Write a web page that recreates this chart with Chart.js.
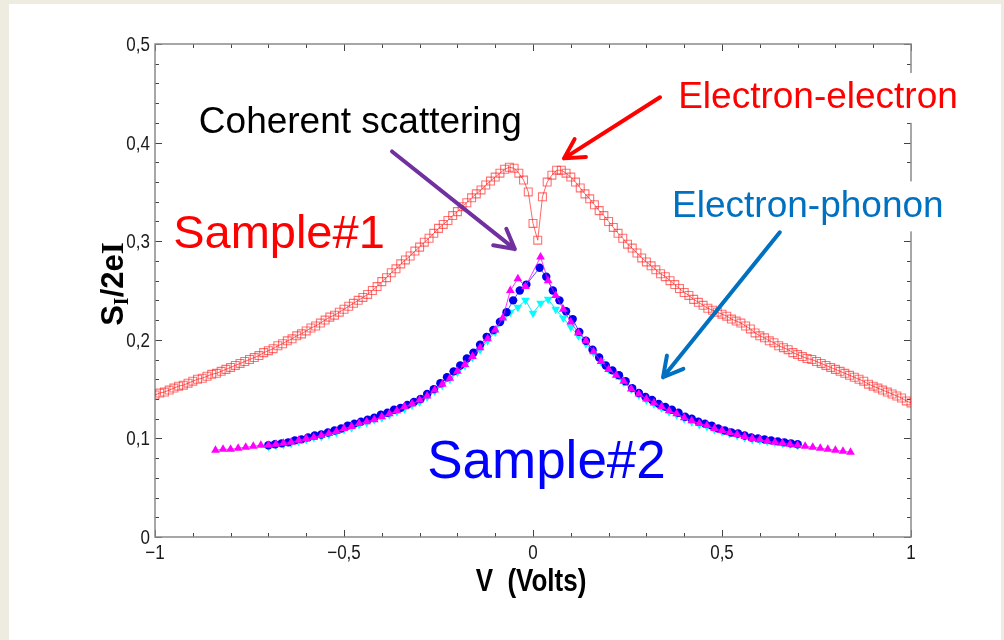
<!DOCTYPE html>
<html>
<head>
<meta charset="utf-8">
<script src="https://cdn.jsdelivr.net/npm/chart.js@4.4.1/dist/chart.umd.min.js"></script>
<style>
  html, body { margin: 0; padding: 0; background: #EEECE1; }
  #slide { position: absolute; left: 9px; top: 4px; width: 992px; height: 636px; background: #fff; }
  #wrap { position: absolute; left: 0; top: 0; width: 1004px; height: 640px; }
</style>
</head>
<body>
<div id="slide"></div>
<div id="wrap"><canvas id="noiseChart"></canvas></div>
<script>
// Sample#1 (red open squares)
const redX = [-1,-0.9875,-0.975,-0.9625,-0.95,-0.9375,-0.925,-0.9125,-0.9,
  -0.8875,-0.875,-0.8625,-0.85,-0.8375,-0.825,-0.8125,-0.8,
  -0.7875,-0.775,-0.7625,-0.75,-0.7375,-0.725,-0.7125,-0.7,
  -0.6875,-0.675,-0.6625,-0.65,-0.6375,-0.625,-0.6125,-0.6,
  -0.5875,-0.575,-0.5625,-0.55,-0.5375,-0.525,-0.5125,-0.5,
  -0.4875,-0.475,-0.4625,-0.45,-0.4375,-0.425,-0.4125,-0.4,
  -0.3875,-0.375,-0.3625,-0.35,-0.3375,-0.325,-0.3125,-0.3,
  -0.2875,-0.275,-0.2625,-0.25,-0.2375,-0.225,-0.2125,-0.2,
  -0.1875,-0.175,-0.1625,-0.15,-0.1375,-0.125,-0.1125,-0.1,
  -0.0875,-0.075,-0.0625,-0.05,-0.0375,-0.025,-0.0125,0,
  0.0125,0.025,0.0375,0.05,0.0625,0.075,0.0875,0.1,
  0.1125,0.125,0.1375,0.15,0.1625,0.175,0.1875,0.2,
  0.2125,0.225,0.2375,0.25,0.2625,0.275,0.2875,0.3,
  0.3125,0.325,0.3375,0.35,0.3625,0.375,0.3875,0.4,
  0.4125,0.425,0.4375,0.45,0.4625,0.475,0.4875,0.5,
  0.5125,0.525,0.5375,0.55,0.5625,0.575,0.5875,0.6,
  0.6125,0.625,0.6375,0.65,0.6625,0.675,0.6875,0.7,
  0.7125,0.725,0.7375,0.75,0.7625,0.775,0.7875,0.8,
  0.8125,0.825,0.8375,0.85,0.8625,0.875,0.8875,0.9,
  0.9125,0.925,0.9375,0.95,0.9625,0.975,0.9875,1];
const redY = [0.144,0.146,0.147,0.149,0.151,0.153,0.154,0.156,0.158,
  0.160,0.161,0.163,0.165,0.166,0.168,0.170,0.172,
  0.174,0.176,0.178,0.180,0.182,0.184,0.187,0.189,
  0.191,0.194,0.196,0.199,0.201,0.204,0.206,0.209,
  0.212,0.214,0.217,0.220,0.223,0.225,0.228,0.231,
  0.234,0.237,0.240,0.243,0.246,0.250,0.254,0.259,
  0.263,0.268,0.272,0.277,0.281,0.285,0.290,0.294,
  0.299,0.303,0.308,0.313,0.317,0.321,0.326,0.330,
  0.335,0.339,0.344,0.348,0.352,0.357,0.361,0.365,
  0.369,0.373,0.375,0.374,0.369,0.362,0.350,0.318,
  0.301,0.345,0.360,0.367,0.372,0.372,0.369,0.365,
  0.360,0.354,0.348,0.343,0.337,0.331,0.326,0.320,
  0.314,0.308,0.303,0.297,0.293,0.288,0.283,0.279,
  0.275,0.271,0.267,0.264,0.260,0.256,0.252,0.248,
  0.245,0.241,0.238,0.235,0.232,0.230,0.228,0.226,
  0.224,0.221,0.219,0.217,0.214,0.211,0.207,0.204,
  0.202,0.199,0.197,0.194,0.192,0.190,0.187,0.185,
  0.183,0.181,0.180,0.178,0.176,0.174,0.172,0.170,
  0.168,0.166,0.164,0.162,0.160,0.158,0.155,0.153,
  0.151,0.149,0.147,0.145,0.143,0.141,0.138,0.136];

// Sample#2 (blue circles)
const blueX = [-0.7,-0.6825,-0.665,-0.6475,-0.63,-0.6125,-0.595,-0.5775,-0.56,-0.5425,
  -0.525,-0.5075,-0.49,-0.4725,-0.455,-0.4375,-0.42,-0.4025,-0.385,-0.3675,
  -0.35,-0.3325,-0.315,-0.2975,-0.28,-0.2625,-0.245,-0.2275,-0.21,-0.1925,
  -0.175,-0.1575,-0.14,-0.1225,-0.105,-0.0875,-0.07,-0.0525,-0.035,-0.0175,
  0.0175,0.035,0.0525,0.07,0.0875,0.105,0.1225,0.14,0.1575,0.175,
  0.1925,0.21,0.2275,0.245,0.2625,0.28,0.2975,0.315,0.3325,0.35,
  0.3675,0.385,0.4025,0.42,0.4375,0.455,0.4725,0.49,0.5075,0.525,
  0.5425,0.56,0.5775,0.595,0.6125,0.63,0.6475,0.665,0.6825,0.7];
const blueY = [0.093,0.094,0.095,0.096,0.098,0.099,0.101,0.103,0.104,0.106,
  0.108,0.110,0.113,0.115,0.117,0.119,0.121,0.124,0.126,0.129,
  0.131,0.134,0.137,0.140,0.145,0.150,0.156,0.162,0.168,0.174,
  0.181,0.187,0.195,0.203,0.210,0.218,0.228,0.240,0.250,0.256,
  0.273,0.264,0.250,0.240,0.229,0.221,0.208,0.199,0.190,0.182,
  0.174,0.169,0.164,0.158,0.151,0.146,0.142,0.139,0.135,0.132,
  0.129,0.126,0.122,0.120,0.117,0.115,0.113,0.110,0.108,0.106,
  0.105,0.103,0.101,0.100,0.099,0.098,0.097,0.096,0.095,0.094];

// Sample#2 (magenta up-triangles)
const magX = [-0.84,-0.82,-0.8,-0.78,-0.76,-0.74,-0.72,-0.7,-0.68,-0.66,
  -0.64,-0.62,-0.6,-0.58,-0.56,-0.54,-0.52,-0.5,-0.48,-0.46,
  -0.44,-0.42,-0.4,-0.38,-0.36,-0.34,-0.32,-0.3,-0.28,-0.26,
  -0.24,-0.22,-0.2,-0.18,-0.16,-0.14,-0.12,-0.1,-0.08,-0.06,
  -0.04,-0.02,0.02,0.04,0.06,0.08,0.1,0.12,0.14,0.16,
  0.18,0.2,0.22,0.24,0.26,0.28,0.3,0.32,0.34,0.36,
  0.38,0.4,0.42,0.44,0.46,0.48,0.5,0.52,0.54,0.56,
  0.58,0.6,0.62,0.64,0.66,0.68,0.7,0.72,0.74,0.76,
  0.78,0.8,0.82,0.84];
const magY = [0.088,0.089,0.089,0.090,0.091,0.092,0.093,0.093,0.094,0.095,
  0.096,0.098,0.100,0.101,0.103,0.105,0.107,0.110,0.112,0.115,
  0.117,0.119,0.122,0.125,0.128,0.132,0.135,0.139,0.143,0.149,
  0.155,0.161,0.168,0.175,0.183,0.192,0.201,0.210,0.222,0.250,
  0.262,0.254,0.284,0.260,0.245,0.231,0.218,0.207,0.199,0.188,
  0.178,0.170,0.164,0.158,0.150,0.145,0.140,0.136,0.132,0.128,
  0.125,0.121,0.118,0.115,0.113,0.110,0.108,0.106,0.104,0.102,
  0.100,0.099,0.097,0.096,0.095,0.094,0.093,0.092,0.091,0.090,
  0.089,0.088,0.087,0.086];

// Sample#2 (cyan down-triangles)
const cyanX = [-0.7,-0.68,-0.66,-0.64,-0.62,-0.6,-0.58,-0.56,-0.54,-0.52,
  -0.5,-0.48,-0.46,-0.44,-0.42,-0.4,-0.38,-0.36,-0.34,-0.32,
  -0.3,-0.28,-0.26,-0.24,-0.22,-0.2,-0.18,-0.16,-0.14,-0.12,
  -0.1,-0.08,-0.06,-0.04,-0.02,0,0.02,0.04,0.06,0.08,
  0.1,0.12,0.14,0.16,0.18,0.2,0.22,0.24,0.26,0.28,
  0.3,0.32,0.34,0.36,0.38,0.4,0.42,0.44,0.46,0.48,
  0.5,0.52,0.54,0.56,0.58,0.6,0.62,0.64,0.66,0.68,0.7];
const cyanY = [0.092,0.093,0.094,0.095,0.097,0.099,0.101,0.102,0.104,0.106,
  0.109,0.111,0.114,0.116,0.119,0.121,0.124,0.127,0.130,0.134,
  0.137,0.142,0.148,0.154,0.160,0.167,0.174,0.182,0.190,0.199,
  0.208,0.220,0.228,0.233,0.240,0.227,0.237,0.241,0.231,0.222,
  0.213,0.204,0.196,0.187,0.178,0.170,0.164,0.157,0.150,0.144,
  0.139,0.135,0.131,0.127,0.124,0.120,0.117,0.114,0.112,0.109,
  0.107,0.105,0.103,0.101,0.099,0.098,0.097,0.096,0.095,0.094,0.093];

// axis ticks
const xMajor = [-1, -0.5, 0, 0.5, 1];
const xLabels = ['\u22121', '\u22120,5', '0', '0,5', '1'];
const xMinor = [-0.9,-0.8,-0.7,-0.6,-0.4,-0.3,-0.2,-0.1,0.1,0.2,0.3,0.4,0.6,0.7,0.8,0.9];
const yMajor = [0, 0.1, 0.2, 0.3, 0.4, 0.5];
const yLabels = ['0', '0,1', '0,2', '0,3', '0,4', '0,5'];
const yMinor = [0.02,0.04,0.06,0.08,0.12,0.14,0.16,0.18,0.22,0.24,0.26,0.28,
  0.32,0.34,0.36,0.38,0.42,0.44,0.46,0.48];

function pts(xs, ys) {
  return xs.map((x, i) => ({ x: x, y: ys[i] }));
}

const SANS = '"Liberation Sans", Arial, sans-serif';
const SERIF = '"Liberation Serif", "Times New Roman", serif';

function arrow(ctx, x1, y1, x2, y2, color) {
  const ang = Math.atan2(y2 - y1, x2 - x1);
  const len = 22, spread = 0.5;
  ctx.strokeStyle = color;
  ctx.lineWidth = 4;
  ctx.lineCap = 'round';
  ctx.lineJoin = 'round';
  ctx.beginPath();
  ctx.moveTo(x1, y1);
  ctx.lineTo(x2, y2);
  ctx.moveTo(x2 - len * Math.cos(ang - spread), y2 - len * Math.sin(ang - spread));
  ctx.lineTo(x2, y2);
  ctx.lineTo(x2 - len * Math.cos(ang + spread), y2 - len * Math.sin(ang + spread));
  ctx.stroke();
}

// text drawn slightly stretched upward, like the pasted plot
function tallText(ctx, t, x, y, sy) {
  ctx.save();
  ctx.translate(x, y);
  ctx.scale(1, sy);
  ctx.fillText(t, 0, 0);
  ctx.restore();
}

const decor = {
  id: 'decor',
  beforeDatasetsDraw(chart) {
    const { ctx, chartArea: a, scales: { x, y } } = chart;
    ctx.save();
    // inward ticks on all four sides
    ctx.strokeStyle = '#444';
    ctx.lineWidth = 1;
    ctx.beginPath();
    const xt = (v, len) => {
      const px = Math.round(x.getPixelForValue(v)) + 0.5;
      ctx.moveTo(px, a.bottom); ctx.lineTo(px, a.bottom - len);
      ctx.moveTo(px, a.top); ctx.lineTo(px, a.top + len);
    };
    const yt = (v, len) => {
      const py = Math.round(y.getPixelForValue(v)) + 0.5;
      ctx.moveTo(a.left, py); ctx.lineTo(a.left + len, py);
      ctx.moveTo(a.right, py); ctx.lineTo(a.right - len, py);
    };
    xMajor.forEach(v => xt(v, 7));
    xMinor.forEach(v => xt(v, 4));
    yMajor.forEach(v => yt(v, 7));
    yMinor.forEach(v => yt(v, 4));
    ctx.stroke();
    // frame
    ctx.strokeStyle = '#8a8a8a';
    ctx.lineWidth = 1.5;
    ctx.strokeRect(a.left, a.top, a.right - a.left, a.bottom - a.top);
    // tick labels
    ctx.fillStyle = '#1a1a1a';
    ctx.font = '17px ' + SANS;
    ctx.textAlign = 'center';
    ctx.textBaseline = 'alphabetic';
    xMajor.forEach((v, i) => tallText(ctx, xLabels[i], x.getPixelForValue(v), a.bottom + 22, 1.18));
    ctx.textAlign = 'right';
    yMajor.forEach((v, i) => tallText(ctx, yLabels[i], a.left - 5, y.getPixelForValue(v) + 7, 1.18));
    // axis titles
    ctx.fillStyle = '#000';
    ctx.font = 'bold 26px ' + SANS;
    ctx.textAlign = 'center';
    tallText(ctx, 'V  (Volts)', (a.left + a.right) / 2 - 2, 591, 1.2);
    ctx.save();
    ctx.translate(123, 284);
    ctx.rotate(-Math.PI / 2);
    ctx.textAlign = 'left';
    const parts = [
      { t: 'S', f: 'bold 31px ' + SANS, dy: 0 },
      { t: 'I', f: 'bold 20px ' + SERIF, dy: 5 },
      { t: '/2e', f: 'bold 31px ' + SANS, dy: 0 },
      { t: 'I', f: 'bold 31px ' + SERIF, dy: 0 }
    ];
    let w = 0;
    parts.forEach(p => { ctx.font = p.f; w += ctx.measureText(p.t).width; });
    let cx = -w / 2;
    parts.forEach(p => {
      ctx.font = p.f;
      ctx.fillText(p.t, cx, p.dy);
      cx += ctx.measureText(p.t).width;
    });
    ctx.restore();
    ctx.restore();
  },
  afterDraw(chart) {
    const { ctx, scales: { x, y } } = chart;
    const X = v => x.getPixelForValue(v);
    const Y = v => y.getPixelForValue(v);
    ctx.save();
    ctx.textBaseline = 'alphabetic';
    ctx.textAlign = 'left';
    // labels with white boxes (they hide the right axis)
    const notes = [
      { t: 'Coherent scattering', x: -0.884, y: 0.410, c: '#000000', s: 37, box: false },
      { t: 'Electron-electron', x: 0.384, y: 0.435, c: '#FF0000', s: 37, box: true },
      { t: 'Electron-phonon', x: 0.368, y: 0.325, c: '#0070C0', s: 37, box: true },
      { t: 'Sample#1', x: -0.952, y: 0.293, c: '#FF0000', s: 47, box: false },
      { t: 'Sample#2', x: -0.280, y: 0.060, c: '#0000FF', s: 53, box: false }
    ];
    notes.forEach(n => {
      ctx.font = n.s + 'px ' + SANS;
      const px = X(n.x), py = Y(n.y);
      if (n.box) {
        const w = ctx.measureText(n.t).width;
        ctx.fillStyle = '#fff';
        ctx.fillRect(px - 10, py - n.s * 0.95, w + 20, n.s * 1.35);
      }
      ctx.fillStyle = n.c;
      ctx.fillText(n.t, px, py);
    });
    arrow(ctx, X(-0.373), Y(0.391), X(-0.048), Y(0.292), '#7030A0');
    arrow(ctx, X(0.336), Y(0.446), X(0.082), Y(0.384), '#FF0000');
    arrow(ctx, X(0.653), Y(0.309), X(0.344), Y(0.162), '#0070C0');
    ctx.restore();
  }
};

const ctx = document.getElementById('noiseChart').getContext('2d');
const noiseChart = new Chart(ctx, {
  type: 'scatter',
  data: {
    datasets: [
      {
        label: 'Sample#2 magenta',
        data: pts(magX, magY),
        showLine: true,
        borderColor: 'rgba(255, 0, 255, 0.8)',
        borderWidth: 1,
        pointStyle: 'triangle',
        pointRadius: 5,
        pointBackgroundColor: '#FF00FF',
        pointBorderColor: '#FF00FF',
        pointBorderWidth: 0
      },
      {
        label: 'Sample#2 blue',
        data: pts(blueX, blueY),
        showLine: true,
        borderColor: 'rgba(40, 40, 255, 0.8)',
        borderWidth: 1,
        pointStyle: 'circle',
        pointRadius: 4.2,
        pointBackgroundColor: '#0000EE',
        pointBorderColor: '#0000EE',
        pointBorderWidth: 0
      },
      {
        label: 'Sample#2 cyan',
        data: pts(cyanX, cyanY),
        showLine: true,
        borderColor: 'rgba(0, 220, 240, 0.9)',
        borderWidth: 1,
        pointStyle: 'triangle',
        rotation: 180,
        pointRadius: 5,
        pointBackgroundColor: '#00FFFF',
        pointBorderColor: '#00FFFF',
        pointBorderWidth: 0
      },
      {
        label: 'Sample#1',
        data: pts(redX, redY),
        showLine: true,
        borderColor: 'rgba(255, 40, 40, 0.7)',
        borderWidth: 1,
        pointStyle: 'rect',
        pointRadius: 5.6,
        pointBackgroundColor: 'rgba(255, 255, 255, 0)',
        pointBorderColor: 'rgba(255, 20, 20, 0.6)',
        pointBorderWidth: 1.1
      }
    ]
  },
  options: {
    responsive: true,
    maintainAspectRatio: false,
    animation: false,
    events: [],
    layout: { padding: { left: 0, right: 93, top: 44, bottom: 0 } },
    scales: {
      x: {
        type: 'linear',
        min: -1,
        max: 1,
        ticks: { display: false },
        grid: { display: false },
        border: { display: false },
        afterFit: (s) => { s.height = 103; }
      },
      y: {
        type: 'linear',
        min: 0,
        max: 0.5,
        ticks: { display: false },
        grid: { display: false },
        border: { display: false },
        afterFit: (s) => { s.width = 155; }
      }
    },
    plugins: {
      legend: { display: false },
      tooltip: { enabled: false }
    }
  },
  plugins: [decor]
});
</script>
</body>
</html>
